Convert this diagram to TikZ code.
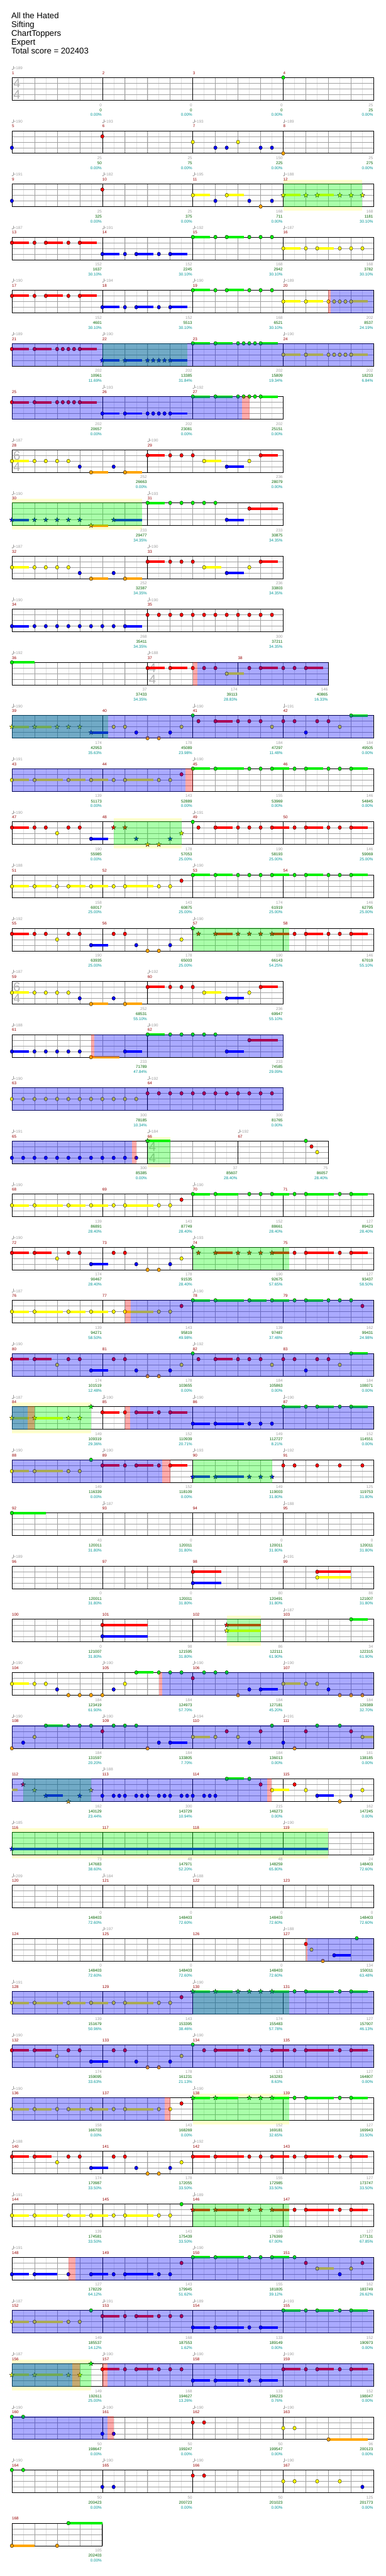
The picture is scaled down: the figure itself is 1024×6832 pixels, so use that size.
\documentclass[tikz,border=0pt]{standalone}
\usepackage{fontspec}
\setmainfont{Liberation Sans}
\usetikzlibrary{shapes.geometric}
\definecolor{c0}{RGB}{0,240,0}
\definecolor{c1}{RGB}{255,0,0}
\definecolor{c2}{RGB}{255,255,0}
\definecolor{c3}{RGB}{0,0,255}
\definecolor{c4}{RGB}{255,165,0}
\definecolor{dkred}{RGB}{150,0,0}
\definecolor{tgrey}{RGB}{160,160,160}
\definecolor{sgreen}{RGB}{0,100,0}
\definecolor{steal}{RGB}{0,150,150}
\definecolor{bandc}{RGB}{255,255,204}
\definecolor{gl}{RGB}{225,225,225}
\definecolor{gb}{RGB}{160,160,160}
\definecolor{tsig}{RGB}{180,180,180}
\newcommand\smf{\fontsize{10.5}{12}\selectfont}
\tikzset{
  lbl/.style={inner sep=0pt, font=\smf},
  mnum/.style={lbl, anchor=base west, text=dkred},
  tmp/.style={lbl, anchor=base west, text=tgrey},
  sgr/.style={lbl, anchor=base east, text=tgrey},
  sgn/.style={lbl, anchor=base east, text=sgreen},
  spc/.style={lbl, anchor=base east, text=steal},
  tsg/.style={inner sep=0pt, text=tsig, font=\fontsize{34}{34}\selectfont},
  strn/.style={star, star points=5, star point ratio=2.3, minimum size=13pt, inner sep=0pt, draw=black, line width=0.5pt},
  ttl/.style={anchor=base west, inner sep=0pt, font=\fontsize{22}{24}\selectfont}
}
\def\setrow#1{\pgfmathsetmacro\rowT{205.7+141*#1}}
\def\staff#1{%
  \fill[white] (31.5,\rowT) rectangle ({31.5+15*#1},\rowT+60);
  \foreach \qk in {2,4,...,#1} \draw[gl, line width=0.7pt] ({31.5+15*\qk},\rowT) -- ++(0,60);
  \foreach \qk in {4,8,...,#1} \draw[gb, line width=0.9pt] ({31.5+15*\qk},\rowT) -- ++(0,60);
  \foreach \qk in {15,30,45} \draw[gb, line width=1pt] (31.5,\rowT+\qk) -- ({31.5+15*#1},\rowT+\qk);
}
\def\border#1{\draw[black, line width=1.2pt] (31.5,\rowT) rectangle ({31.5+15*#1},\rowT+60);}
\def\tsigat#1#2#3{\node[tsg] at ({44.5+15*#1},\rowT+15) {#2}; \node[tsg] at ({44.5+15*#1},\rowT+45) {#3};}
\def\mm#1#2#3#4#5#6#7{%
  \pgfmathsetmacro\mxa{31.5+15*(#1)}%
  \pgfmathsetmacro\mxb{30+15*(#1+#2)}%
  \draw[black, line width=0.9pt] (\mxa,\rowT) -- (\mxa,\rowT+60);
  \node[mnum] at (\mxa,\rowT-8.3) {#3};
  \ifx&#4&\else
    \fill[tgrey] (\mxa+1.6,\rowT-21.8) ellipse [x radius=2.1, y radius=1.5];
    \draw[tgrey, line width=0.6pt] (\mxa+3.5,\rowT-22) -- (\mxa+3.5,\rowT-30.5);
    \node[tmp] at (\mxa+4.5,\rowT-20.8) {=#4};
  \fi
  \node[sgr] at (\mxb,\rowT+76.2) {#5};
  \node[sgn] at (\mxb,\rowT+89.6) {#6};
  \node[spc] at (\mxb,\rowT+102.8) {#7\%};
}
\def\nC#1#2#3{\edef\ncol{c#2}%
  \ifnum#3>0 \fill[\ncol] ({31.5+15*(#1)},{\rowT+15*(#2)-3.3}) rectangle ({31.5+15*(#1+#3)},{\rowT+15*(#2)+3.3});\fi
  \filldraw[fill=\ncol, draw=black, line width=0.6pt] ({31.5+15*(#1)},{\rowT+15*(#2)}) ellipse [x radius=4.5, y radius=5];}
\def\nS#1#2#3{\edef\ncol{c#2}%
  \ifnum#3>0 \fill[\ncol] ({31.5+15*(#1)},{\rowT+15*(#2)-3.3}) rectangle ({31.5+15*(#1+#3)},{\rowT+15*(#2)+3.3});\fi
  \node[strn, fill=\ncol] at ({31.5+15*(#1)},{\rowT+15*(#2)}) {};}
\def\nB#1#2#3{\fill[c#2] ({31.5+15*(#1)},{\rowT+15*(#2)-3.3}) rectangle ({31.5+15*(#1+#3)},{\rowT+15*(#2)+3.3});}
\def\notes#1{\foreach \qa/\qb/\qc in {#1}{\nC{\qa}{\qb}{\qc}}}
\def\stars#1{\foreach \qa/\qb/\qc in {#1}{\nS{\qa}{\qb}{\qc}}}
\def\runb#1#2#3#4{\foreach \qk in {#1,#2,...,#3}{\nC{\qk}{#4}{0}}}
\def\ovl#1#2#3{\fill[#1, opacity=0.333] ({31.5+15*(#2)},\rowT-0.7) rectangle ({31.5+15*(#3)},\rowT+60.7);}
\def\spg#1#2{\ovl{green}{#1}{#2}}
\def\act#1#2{\ovl{blue}{#1}{#2}}
\def\rst#1#2{\ovl{red}{#1}{#2}}
\def\band#1#2{\fill[bandc] ({31.5+15*(#1)},\rowT-10.5) rectangle ({31.5+15*(#2)},\rowT+70.5);}
\def\PA{\notes{0/2/3,4/2/0,6/2/0,8/2/0,10/2/0,12/3/0,14/4/3,18/3/0,20/4/3,24/1/3,28/1/0,30/1/0,32/1/0,34/2/3,38/3/3,42/2/0,44/1/3}}
\def\YA{\notes{0/2/3,4/2/5,10/2/3,14/2/3,18/2/0,20/2/5,26/2/0,28/2/0}}
\def\YB{\notes{0/2/3,4/2/3,8/2/0,10/2/3,14/2/3,18/2/0,20/2/5,26/2/0,28/2/0}}
\def\RA{\notes{0/1/3,4/1/0,6/1/0,8/2/0,10/1/0,12/1/0,14/3/3}}
\def\RB{\notes{0/1/3,4/1/3,8/2/0,10/1/0,12/1/0,14/3/3}}
\def\RT{\notes{18/1/0,20/1/0,22/3/0,24/4/0,26/4/0,28/3/0,30/2/0}}
\def\QA{\notes{0/1/3,4/1/0,6/1/3,10/1/0,12/1/3,16/3/3,20/3/0,22/3/3,26/3/0,28/3/3,32/0/3,36/0/0,38/0/3,42/0/0,44/0/0,46/0/0}}
\begin{document}
\begin{tikzpicture}[x=1pt,y=-1pt]
\fill[white] (0,0) rectangle (1024,6832);
\useasboundingbox (0,0) rectangle (1024,6832);
\node[ttl] (t1) at (30,49.3) {All the Hated};
\node[ttl] (t2) at (30,72.6) {Sifting};
\node[ttl] (t3) at (30,95.9) {ChartToppers};
\node[ttl] (t4) at (30,119.2) {Expert};
\node[ttl] (t5) at (30,142) {Total score = 202403};
% row 0
\setrow{0}\staff{64}\tsigat{0}{4}{4}
\mm{0}{16}{1}{189}{0}{0}{0.00}\mm{16}{16}{2}{}{0}{0}{0.00}\mm{32}{16}{3}{}{0}{0}{0.00}\mm{48}{16}{4}{}{25}{25}{0.00}
\border{64}\notes{48/0/0}
% row 1
\setrow{1}\staff{64}
\mm{0}{16}{5}{190}{25}{50}{0.00}\mm{16}{16}{6}{193}{25}{75}{0.00}\mm{32}{16}{7}{193}{150}{225}{0.00}\mm{48}{16}{8}{189}{25}{275}{0.00}
\border{64}\notes{0/3/0,16/1/0,32/2/0,36/3/0,38/3/0,40/2/0,44/3/0,46/3/0,48/4/0}
% row 2
\setrow{2}\band{48}{62}\staff{64}
\mm{0}{16}{9}{191}{25}{325}{0.00}\mm{16}{16}{10}{182}{25}{375}{0.00}\mm{32}{16}{11}{195}{168}{711}{0.00}\mm{48}{16}{12}{188}{168}{1181}{30.10}
\border{64}\notes{0/3/0,16/1/0,32/2/3,36/3/0,38/2/3,42/3/0,44/4/0,46/3/0}
\stars{48/2/3,52/2/0,54/2/3,58/2/0,60/2/0,62/2/0}\spg{48}{62}
% row 3
\setrow{3}\staff{64}
\mm{0}{16}{13}{187}{152}{1637}{30.10}\mm{16}{16}{14}{191}{152}{2245}{30.10}\mm{32}{16}{15}{192}{168}{2942}{30.10}\mm{48}{16}{16}{187}{168}{3782}{30.10}
\border{64}\QA\notes{48/2/3,52/2/0,54/2/3,58/2/0,60/2/0,62/2/0}
% row 4
\setrow{4}\staff{64}
\mm{0}{16}{17}{190}{152}{4601}{30.10}\mm{16}{16}{18}{194}{152}{5513}{30.10}\mm{32}{16}{19}{190}{168}{6521}{30.10}\mm{48}{16}{20}{189}{202}{8537}{24.19}
\border{64}\QA\notes{48/2/3,52/2/3,56/2/0,57/2/0,58/2/0,59/2/0,60/2/3}
\rst{56}{56.35}\act{56.35}{64}
% row 5
\setrow{5}\staff{64}
\mm{0}{16}{21}{189}{202}{10961}{11.69}\mm{16}{16}{22}{190}{202}{13385}{31.84}\mm{32}{16}{23}{}{202}{15809}{19.34}\mm{48}{16}{24}{190}{202}{18233}{6.84}
\border{64}\notes{0/1/3,4/1/3,8/1/0,9/1/0,10/1/0,11/1/0,12/1/3,32/0/3,36/0/3,40/0/0,41/0/0,42/0/0,43/0/0,44/0/3,48/2/3,52/2/3,56/2/0,57/2/0,58/2/0,59/2/0,60/2/3}
\stars{16/3/3,20/3/3,24/3/0,25/3/0,26/3/0,27/3/0,28/3/3}
\spg{16}{31}\act{0}{64}
% row 6
\setrow{6}\staff{48}
\mm{0}{16}{25}{}{202}{20657}{0.00}\mm{16}{16}{26}{193}{202}{23081}{0.00}\mm{32}{16}{27}{192}{202}{25151}{0.00}
\border{48}\notes{0/1/3,4/1/3,8/1/0,9/1/0,10/1/0,11/1/0,12/1/3,16/3/3,20/3/3,24/3/0,25/3/0,26/3/0,27/3/0,28/3/3,32/0/3,36/0/3,40/0/0,41/0/0,42/0/0,43/0/0,44/0/3}
\act{0}{40.7}\rst{40.7}{42}
% row 7
\setrow{7}\staff{48}\tsigat{0}{6}{4}
\mm{0}{24}{28}{187}{252}{26663}{0.00}\mm{24}{24}{29}{190}{236}{28079}{0.00}
\border{48}\PA
% row 8
\setrow{8}\band{0}{23}\staff{48}
\mm{0}{24}{30}{190}{233}{29477}{34.35}\mm{24}{24}{31}{193}{233}{30875}{34.35}
\border{48}\stars{0/3/3,4/3/0,6/3/0,8/3/0,10/3/0,12/3/0,14/4/3,18/3/5}
\notes{24/0/3,28/0/0,30/0/0,32/0/0,34/0/0,36/0/0,38/3/3,42/1/5}\spg{0}{23}
% row 9
\setrow{9}\staff{48}
\mm{0}{24}{32}{187}{252}{32387}{34.35}\mm{24}{24}{33}{190}{236}{33803}{34.35}
\border{48}\PA
% row 10
\setrow{10}\staff{48}
\mm{0}{24}{34}{190}{268}{35411}{34.35}\mm{24}{24}{35}{190}{300}{37211}{34.35}
\border{48}\notes{0/3/3,4/3/0,6/3/0,8/3/0,10/3/0,12/3/0,14/3/0,16/3/0,18/3/0,20/3/3}\runb{24}{26}{46}{1}
% row 11
\setrow{11}\staff{56}\tsigat{24}{4}{4}
\mm{0}{24}{36}{192}{37}{37433}{34.35}\mm{24}{16}{37}{188}{174}{39113}{28.83}\mm{40}{16}{38}{}{146}{40865}{16.33}
\border{56}\notes{0/0/4,24/1/3,28/1/3,32/1/0,34/1/0,36/1/0,38/2/3,42/1/0,44/1/3,48/1/0,50/1/0,52/1/3}
\rst{32}{32.8}\act{32.8}{56}
% row 12
\setrow{12}\staff{64}
\mm{0}{16}{39}{190}{174}{42953}{35.63}\mm{16}{16}{40}{}{178}{45089}{23.98}\mm{32}{16}{41}{190}{184}{47297}{11.48}\mm{48}{16}{42}{191}{184}{49505}{0.00}
\border{64}\stars{0/2/3,4/2/3,8/2/0,10/2/0,12/2/0,14/3/3}
\notes{18/2/0,20/2/0,22/3/0,24/4/0,26/4/0,28/3/0,30/2/0,32/0/0,33/1/0,36/1/3,40/1/0,42/1/0,44/1/0,46/2/0,48/1/0,50/1/0,52/3/0,54/1/0,56/1/0,58/2/0,60/0/3}
\spg{0}{17}\act{0}{64}
% row 13
\setrow{13}\staff{64}
\mm{0}{16}{43}{191}{139}{51173}{0.00}\mm{16}{16}{44}{}{143}{52889}{0.00}\mm{32}{16}{45}{190}{155}{53969}{0.00}\mm{48}{16}{46}{}{146}{54845}{0.00}
\border{64}\YA\notes{30/1/0,32/0/3,36/0/5,42/0/0,44/0/0,46/0/3,50/0/0,52/0/3,56/0/0,58/0/0,60/0/3}
\act{0}{30.66}\rst{30.66}{32}
% row 14
\setrow{14}\band{18}{30}\staff{64}
\mm{0}{16}{47}{190}{190}{55985}{0.00}\mm{16}{16}{48}{}{178}{57053}{25.00}\mm{32}{16}{49}{191}{190}{58193}{25.00}\mm{48}{16}{50}{}{146}{59069}{25.00}
\border{64}\RA\stars{18/1/0,20/1/0,22/3/0,24/4/0,26/4/0,28/3/0,30/2/0}
\notes{32/0/0,33/1/0,36/1/3,40/1/0,42/1/0,44/1/0,46/1/3,50/1/0,52/1/3,56/1/0,58/1/0,60/1/3}\spg{18}{30}
% row 15
\setrow{15}\staff{64}
\mm{0}{16}{51}{188}{158}{60017}{25.00}\mm{16}{16}{52}{}{143}{60875}{25.00}\mm{32}{16}{53}{190}{174}{61919}{25.00}\mm{48}{16}{54}{}{146}{62795}{25.00}
\border{64}\YB\notes{30/1/0,32/0/3,36/0/3,40/0/0,42/0/0,44/0/0,46/0/3,50/0/0,52/0/3,56/0/0,58/0/0,60/0/3}
% row 16
\setrow{16}\staff{64}
\mm{0}{16}{55}{192}{190}{63935}{25.00}\mm{16}{16}{56}{}{178}{65003}{25.00}\mm{32}{16}{57}{190}{190}{66143}{54.25}\mm{48}{16}{58}{}{146}{67019}{55.10}
\border{64}\RA\RT\stars{32/0/0,33/1/0,36/1/3,40/1/0,42/1/0,44/1/0,46/1/3}
\notes{50/1/0,52/1/3,56/1/0,58/1/0,60/1/3}\spg{32}{49}
% row 17
\setrow{17}\staff{48}\tsigat{0}{6}{4}
\mm{0}{24}{59}{187}{252}{68531}{55.10}\mm{24}{24}{60}{192}{236}{69947}{55.10}
\border{48}\PA
% row 18
\setrow{18}\staff{48}
\mm{0}{24}{61}{188}{233}{71789}{47.84}\mm{24}{24}{62}{190}{233}{74585}{29.09}
\border{48}\notes{0/3/3,4/3/0,6/3/0,8/3/0,10/3/0,12/3/0,14/4/5,20/3/3,24/0/3,28/0/0,30/0/0,32/0/0,34/0/0,36/0/0,38/3/3,42/1/5}
\rst{14}{14.6}\act{14.6}{48}
% row 19
\setrow{19}\staff{48}
\mm{0}{24}{63}{190}{300}{78185}{10.34}\mm{24}{24}{64}{192}{300}{81765}{0.00}
\border{48}\runb{0}{2}{22}{2}\runb{24}{26}{46}{1}\act{0}{48}
% row 20
\setrow{20}\band{24}{28}\staff{56}\tsigat{24}{4}{4}
\mm{0}{24}{65}{191}{300}{85385}{0.00}\mm{24}{16}{66}{184}{37}{85607}{28.40}\mm{40}{16}{67}{192}{75}{86057}{28.40}
\border{56}\runb{0}{2}{22}{3}\stars{24/0/4}\notes{52/0/0,53/1/0,54/2/0}
\act{0}{21.2}\rst{21.2}{22}\spg{24}{28}
% row 21
\setrow{21}\staff{64}
\mm{0}{16}{68}{190}{139}{86891}{28.40}\mm{16}{16}{69}{}{143}{87749}{28.40}\mm{32}{16}{70}{190}{152}{88661}{28.40}\mm{48}{16}{71}{}{127}{89423}{28.40}
\border{64}\YA\notes{30/1/0,32/0/3,36/0/4,42/0/0,44/0/0,46/0/3,50/0/0,52/0/5,58/0/0,60/0/3}
% row 22
\setrow{22}\staff{64}
\mm{0}{16}{72}{190}{174}{90467}{28.40}\mm{16}{16}{73}{}{178}{91535}{28.40}\mm{32}{16}{74}{193}{190}{92675}{57.65}\mm{48}{16}{75}{}{127}{93437}{58.50}
\border{64}\RB\RT\stars{32/0/0,33/1/0,36/1/3,40/1/0,42/1/0,44/1/0,46/1/3}
\notes{50/1/0,52/1/5,58/1/0,60/1/3}\spg{32}{49}
% row 23
\setrow{23}\staff{64}
\mm{0}{16}{76}{187}{139}{94271}{58.50}\mm{16}{16}{77}{}{143}{95819}{49.98}\mm{32}{16}{78}{190}{139}{97487}{37.48}\mm{48}{16}{79}{}{162}{99431}{24.98}
\border{64}\YA\notes{30/1/0,32/0/3,36/0/5,42/0/3,46/0/3,50/0/0,52/0/3,56/0/0,58/0/0,60/0/0,62/1/0}
\rst{20}{21}\act{21}{64}
% row 24
\setrow{24}\staff{64}
\mm{0}{16}{80}{190}{174}{101519}{12.48}\mm{16}{16}{81}{}{178}{103655}{0.00}\mm{32}{16}{82}{192}{184}{105863}{0.00}\mm{48}{16}{83}{}{184}{108071}{0.00}
\border{64}\RB\RT\notes{32/0/0,33/1/0,36/1/3,40/1/0,42/1/0,44/1/0,46/2/0,48/1/0,50/1/0,52/3/0,54/1/0,56/1/0,58/2/0,60/0/3}
\act{0}{64}
% row 25
\setrow{25}\band{0}{14}\staff{64}
\mm{0}{16}{84}{187}{149}{109319}{29.36}\mm{16}{16}{85}{190}{152}{110939}{20.71}\mm{32}{16}{86}{190}{149}{112727}{8.21}\mm{48}{16}{87}{190}{152}{114551}{0.00}
\border{64}\stars{0/2/3,4/2/5,10/2/0,12/2/0,14/0/0}
\notes{16/1/3,20/1/0,22/1/3,26/1/0,28/1/3,32/3/3,36/3/5,42/3/0,44/3/0,46/3/0,48/0/3,52/0/0,54/0/3,58/0/0,60/0/3}
\spg{0}{14}\act{0}{2.83}\rst{2.83}{4}\rst{20}{20.9}\act{20.9}{64}
% row 26
\setrow{26}\staff{64}
\mm{0}{16}{88}{190}{149}{116339}{0.00}\mm{16}{16}{89}{190}{152}{118109}{0.00}\mm{32}{16}{90}{193}{149}{119003}{31.80}\mm{48}{16}{91}{192}{125}{119753}{31.80}
\border{64}\notes{0/2/3,4/2/5,10/2/0,12/2/0,14/0/0,16/1/3,20/1/0,22/1/3,26/1/0,28/1/3,48/1/0,50/1/0,54/1/0,58/1/0,62/1/0}
\stars{32/3/3,36/3/5,42/3/0,44/3/0,46/3/0}
\act{0}{26.6}\rst{26.6}{28}\spg{32}{46}
% row 27
\setrow{27}\staff{64}
\mm{0}{16}{92}{}{43}{120011}{31.80}\mm{16}{16}{93}{187}{0}{120011}{31.80}\mm{32}{16}{94}{}{0}{120011}{31.80}\mm{48}{16}{95}{188}{0}{120011}{31.80}
\border{64}\notes{0/0/6}
% row 28
\setrow{28}\staff{64}
\mm{0}{16}{96}{189}{0}{120011}{31.80}\mm{16}{16}{97}{}{0}{120011}{31.80}\mm{32}{16}{98}{}{80}{120491}{31.80}\mm{48}{16}{99}{191}{86}{121007}{31.80}
\border{64}\notes{32/1/5,32/3/5,54/1/6,54/2/6}
% row 29
\setrow{29}\band{38}{44}\staff{64}
\mm{0}{16}{100}{}{0}{121007}{31.80}\mm{16}{16}{101}{}{98}{121595}{31.80}\mm{32}{16}{102}{}{86}{122111}{61.90}\mm{48}{16}{103}{187}{34}{122315}{61.90}
\border{64}\notes{16/1/8,16/3/8,60/0/3}\stars{38/1/6,38/2/6}\spg{38}{44}
% row 30
\setrow{30}\staff{64}
\mm{0}{16}{104}{190}{184}{123419}{61.90}\mm{16}{16}{105}{190}{184}{124973}{57.70}\mm{32}{16}{106}{190}{184}{127181}{45.20}\mm{48}{16}{107}{190}{184}{129389}{32.70}
\border{64}\notes{0/2/3,4/2/0,6/2/0,8/3/0,10/4/0,12/4/0,14/4/0,16/4/0,18/3/0,20/2/0,22/0/3,26/0/0,28/0/0,30/0/0,32/1/0,34/0/0,36/0/0,38/0/0,40/4/0,42/3/0,44/3/3,48/2/3,52/2/0,54/2/0,56/3/0,58/4/0,60/4/0,62/4/0}
\rst{26}{26.6}\act{26.6}{64}
% row 31
\setrow{31}\staff{64}
\mm{0}{16}{108}{190}{184}{131597}{20.20}\mm{16}{16}{109}{190}{184}{133805}{7.70}\mm{32}{16}{110}{194}{184}{136013}{0.00}\mm{48}{16}{111}{191}{181}{138185}{0.00}
\border{64}\notes{0/4/0,2/3/0,4/2/0,6/0/3,10/0/0,12/0/0,14/0/0,16/1/0,18/0/0,20/0/0,22/0/0,24/4/0,26/3/0,28/3/3,32/2/3,36/2/0,38/1/0,40/2/0,42/3/0,44/1/0,46/0/0,48/3/0,50/4/0,52/1/0,54/0/0,58/0/0,60/1/0,62/2/2}
\act{0}{64}
% row 32
\setrow{32}\staff{64}
\mm{0}{16}{112}{}{162}{140129}{23.44}\mm{16}{16}{113}{188}{300}{143729}{10.94}\mm{32}{16}{114}{}{215}{146273}{0.00}\mm{48}{16}{115}{}{162}{147245}{0.00}
\border{64}\nB{0}{2}{1}\stars{2/1/0,4/2/0,6/3/3,10/4/0,12/3/0,14/2/0}
\notes{16/3/0,18/3/0,19/3/0,20/3/0,22/3/0,23/3/0,24/3/0,26/3/0,27/3/0,28/3/0,30/3/0,31/3/0,32/3/0,34/3/0,35/3/0,36/3/0,38/0/3,42/0/0,44/1/0,46/2/3,50/1/0,52/2/0,54/3/3,58/4/0,60/3/0,62/2/0}
\spg{2}{14}\act{0}{45.2}\rst{45.2}{45.9}
% row 33
\setrow{33}\band{0}{56}\staff{64}
\mm{0}{16}{116}{185}{73}{147683}{38.60}\mm{16}{16}{117}{}{48}{147971}{52.20}\mm{32}{16}{118}{}{48}{148259}{65.80}\mm{48}{16}{119}{190}{24}{148403}{72.60}
\border{64}\stars{0/3/56}\spg{0}{56}
% row 34
\setrow{34}\staff{64}
\mm{0}{16}{120}{209}{0}{148403}{72.60}\mm{16}{16}{121}{184}{0}{148403}{72.60}\mm{32}{16}{122}{188}{0}{148403}{72.60}\mm{48}{16}{123}{}{0}{148403}{72.60}
\border{64}
% row 35
\setrow{35}\staff{64}
\mm{0}{16}{124}{}{0}{148403}{72.60}\mm{16}{16}{125}{197}{0}{148403}{72.60}\mm{32}{16}{126}{}{0}{148403}{72.60}\mm{48}{16}{127}{188}{134}{150011}{63.48}
\border{64}\notes{52/1/0,53/2/0,55/4/0,57/3/3,61/0/0}\rst{52}{52.3}\act{52.3}{64}
% row 36
\setrow{36}\staff{64}
\mm{0}{16}{128}{191}{139}{151679}{50.96}\mm{16}{16}{129}{}{143}{153395}{38.46}\mm{32}{16}{130}{190}{174}{155483}{57.78}\mm{48}{16}{131}{}{127}{157007}{46.13}
\border{64}\YA\notes{30/1/0,50/0/0,52/0/5,58/0/0,60/0/3}\stars{32/0/3,36/0/3,40/0/0,42/0/0,44/0/0,46/0/3}
\spg{32}{49}\act{0}{64}
% row 37
\setrow{37}\staff{64}
\mm{0}{16}{132}{190}{174}{159095}{33.63}\mm{16}{16}{133}{}{178}{161231}{21.13}\mm{32}{16}{134}{190}{171}{163283}{8.63}\mm{48}{16}{135}{}{127}{164807}{0.00}
\border{64}\RB\RT\notes{32/0/0,34/1/0,36/1/5,42/1/0,44/1/0,46/1/3,50/1/0,52/1/5,58/1/0,60/1/3}\act{0}{64}
% row 38
\setrow{38}\band{32}{49}\staff{64}
\mm{0}{16}{136}{190}{158}{166703}{0.00}\mm{16}{16}{137}{}{143}{168269}{0.00}\mm{32}{16}{138}{190}{152}{169181}{32.65}\mm{48}{16}{139}{}{127}{169943}{33.50}
\border{64}\YB\notes{30/1/0,50/0/0,52/0/5,58/0/0,60/0/3}\stars{32/0/3,36/0/4,42/0/0,44/0/0,46/0/3}
\act{0}{27}\rst{27}{28}\spg{32}{49}
% row 39
\setrow{39}\staff{64}
\mm{0}{16}{140}{188}{174}{170987}{33.50}\mm{16}{16}{141}{}{178}{172055}{33.50}\mm{32}{16}{142}{192}{155}{172985}{33.50}\mm{48}{16}{143}{}{127}{173747}{33.50}
\border{64}\RB\RT\notes{32/1/3,36/1/5,42/1/0,44/1/0,46/1/3,50/1/0,52/1/5,58/1/0,60/1/3}
% row 40
\setrow{40}\staff{64}
\mm{0}{16}{144}{191}{139}{174581}{33.50}\mm{16}{16}{145}{}{143}{175439}{33.50}\mm{32}{16}{146}{189}{155}{176369}{67.00}\mm{48}{16}{147}{}{127}{177131}{67.85}
\border{64}\YA\notes{30/0/0,50/1/0,52/1/5,58/1/0,60/1/3}\stars{32/1/3,36/1/5,42/1/0,44/1/0,46/1/3}\spg{32}{49}
% row 41
\setrow{41}\staff{64}
\mm{0}{16}{148}{191}{127}{178229}{64.12}\mm{16}{16}{149}{}{143}{179945}{51.62}\mm{32}{16}{150}{190}{155}{181805}{39.12}\mm{48}{16}{151}{}{162}{183749}{26.62}
\border{64}\notes{0/3/3,4/3/4,10/3/0,14/3/3,18/3/0,20/3/5,26/3/0,28/3/0,30/1/0,32/0/3,36/0/5,42/0/0,44/0/0,46/0/3,50/0/0,52/1/0,54/2/3,58/3/0,60/2/0,62/1/0}
\rst{10}{11.2}\act{11.2}{64}
% row 42
\setrow{42}\staff{64}
\mm{0}{16}{152}{187}{149}{185537}{14.12}\mm{16}{16}{153}{191}{168}{187553}{1.62}\mm{32}{16}{154}{189}{133}{189149}{0.00}\mm{48}{16}{155}{193}{152}{190973}{0.00}
\border{64}\notes{0/2/3,4/2/5,10/2/0,12/2/0,14/0/0,16/1/3,20/1/0,22/1/3,26/1/0,28/1/0,30/1/0,32/3/3,36/3/5,42/3/0,44/3/3,48/0/3,52/0/0,54/0/3,58/0/0,60/0/3}
\act{0}{64}
% row 43
\setrow{43}\band{0}{14}\staff{64}
\mm{0}{16}{156}{187}{149}{192611}{25.00}\mm{16}{16}{157}{190}{168}{194627}{13.26}\mm{32}{16}{158}{190}{133}{196223}{0.76}\mm{48}{16}{159}{190}{152}{198047}{0.00}
\border{64}\stars{0/2/3,4/2/5,10/2/0,12/2/0,14/0/0}
\notes{16/1/3,20/1/0,22/1/3,26/1/0,28/1/0,30/1/0,32/3/3,36/3/5,42/3/0,44/3/3,48/1/3,52/1/0,54/1/3,58/1/0,60/1/3}
\spg{0}{14}\act{0}{10.7}\rst{10.7}{12}\rst{16}{16.9}\act{16.9}{64}
% row 44
\setrow{44}\staff{64}
\mm{0}{16}{160}{190}{50}{198647}{0.00}\mm{16}{16}{161}{190}{50}{199247}{0.00}\mm{32}{16}{162}{190}{50}{199547}{0.00}\mm{48}{16}{163}{190}{96}{200123}{0.00}
\border{64}\notes{0/0/0,2/0/0,16/3/0,18/3/0,32/1/0,34/1/0,48/2/0,50/2/0,56/4/7}
\act{0}{16.9}\rst{16.9}{18}
% row 45
\setrow{45}\staff{64}
\mm{0}{16}{164}{190}{50}{200423}{0.00}\mm{16}{16}{165}{190}{50}{200723}{0.00}\mm{32}{16}{166}{190}{50}{201023}{0.00}\mm{48}{16}{167}{190}{125}{201773}{0.00}
\border{64}\notes{0/0/0,2/0/0,16/3/0,18/3/0,32/1/0,34/1/0,48/2/0,50/2/0,54/2/0,58/2/0,62/3/0}
% row 46
\setrow{46}\staff{16}
\mm{0}{16}{168}{}{105}{202403}{0.00}
\border{16}\notes{0/4/4,8/4/0,10/0/6}
\end{tikzpicture}
\end{document}
